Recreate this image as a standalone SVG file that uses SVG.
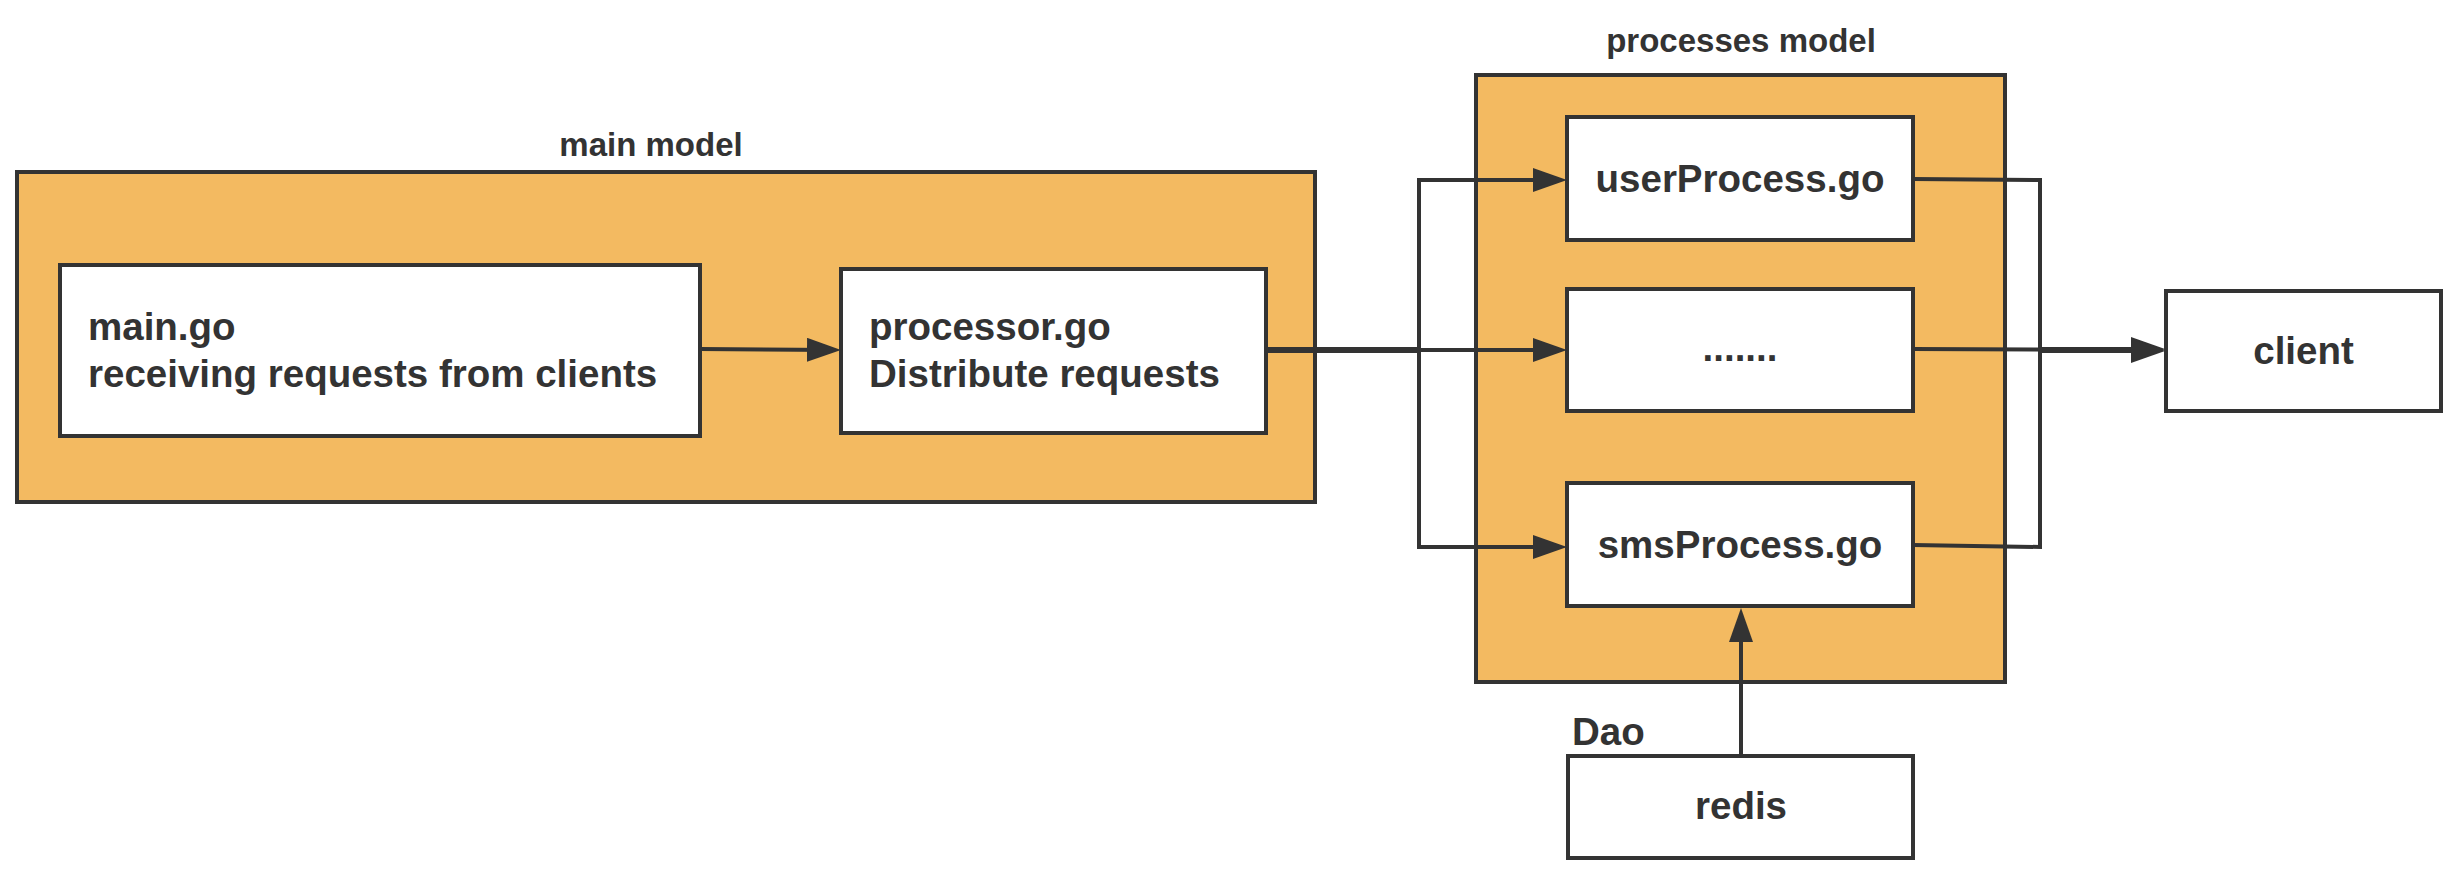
<svg xmlns="http://www.w3.org/2000/svg" width="2458" height="884" viewBox="0 0 2458 884">
  <style>
    .group { fill: #F3BA61; stroke: #333333; stroke-width: 4; }
    .box { fill: #FFFFFF; stroke: #333333; stroke-width: 4; }
    .label { font-family: "Liberation Sans", Arial, sans-serif; font-weight: bold; font-size: 33px; fill: #333333; }
    .txt { font-family: "Liberation Sans", Arial, sans-serif; font-weight: bold; font-size: 38.5px; fill: #333333; }
    .mid { text-anchor: middle; }
    .conn { fill: none; stroke: #333333; stroke-width: 4; stroke-linejoin: miter; }
  </style>
  <defs>
    <marker id="arrow" markerUnits="userSpaceOnUse" markerWidth="34" markerHeight="24" refX="26" refY="12" orient="auto" viewBox="0 0 34 24">
      <path d="M0,0 L34,12 L0,24 Z" fill="#333333"/>
    </marker>
  </defs>

  <rect width="2458" height="884" fill="#FFFFFF"/>

  <g id="main-model">
    <rect class="group" x="17" y="172" width="1298" height="330"/>
    <text class="label mid" x="651" y="156">main model</text>
  </g>

  <g id="processes-model">
    <rect class="group" x="1476" y="75" width="529" height="607"/>
    <text class="label mid" x="1741" y="52">processes model</text>
  </g>

  <g id="main-go">
    <rect class="box" x="60" y="265" width="640" height="171"/>
    <text class="txt" x="88" y="340">main.go</text>
    <text class="txt" x="88" y="387">receiving requests from clients</text>
  </g>

  <g id="processor-go">
    <rect class="box" x="841" y="269" width="425" height="164"/>
    <text class="txt" x="869" y="340">processor.go</text>
    <text class="txt" x="869" y="387">Distribute requests</text>
  </g>

  <g id="userProcess-go">
    <rect class="box" x="1567" y="117" width="346" height="123"/>
    <text class="txt mid" x="1740" y="192">userProcess.go</text>
  </g>

  <g id="other-process">
    <rect class="box" x="1567" y="289" width="346" height="122"/>
    <text class="txt mid" x="1740" y="361">.......</text>
  </g>

  <g id="smsProcess-go">
    <rect class="box" x="1567" y="483" width="346" height="123"/>
    <text class="txt mid" x="1740" y="558">smsProcess.go</text>
  </g>

  <g id="client">
    <rect class="box" x="2166" y="291" width="275" height="120"/>
    <text class="txt mid" x="2303.5" y="364">client</text>
  </g>

  <g id="redis">
    <rect class="box" x="1568" y="756" width="345" height="102"/>
    <text class="txt mid" x="1741" y="819">redis</text>
    <text class="txt" x="1572" y="745">Dao</text>
  </g>

  <g id="connectors">
    <path class="conn" marker-end="url(#arrow)" d="M700,349 L833,350"/>
    <path class="conn" marker-end="url(#arrow)" d="M1266,349 H1419 V180 H1559"/>
    <path class="conn" marker-end="url(#arrow)" d="M1266,350 H1559"/>
    <path class="conn" marker-end="url(#arrow)" d="M1266,351 H1419 V547 H1559"/>
    <path class="conn" marker-end="url(#arrow)" d="M1913,179 L2040,180 V349 H2157"/>
    <path class="conn" marker-end="url(#arrow)" d="M1913,349 L2157,350"/>
    <path class="conn" marker-end="url(#arrow)" d="M1913,545 L2040,547 V351 H2157"/>
    <path class="conn" marker-end="url(#arrow)" d="M1741,756 V616"/>
  </g>
</svg>
